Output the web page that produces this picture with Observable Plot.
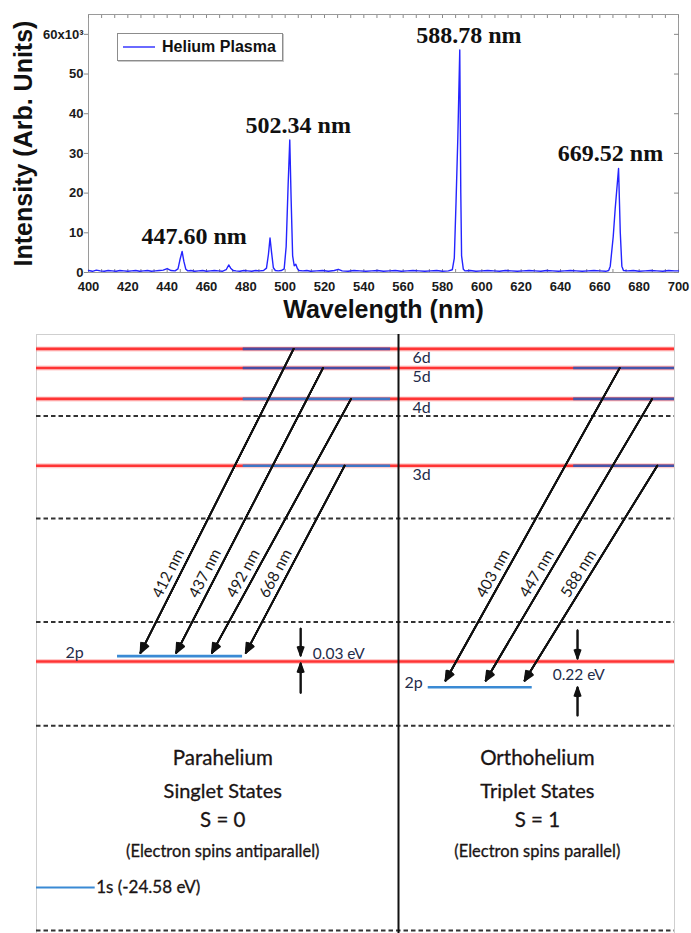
<!DOCTYPE html>
<html>
<head>
<meta charset="utf-8">
<script src="https://cdn.jsdelivr.net/npm/d3@7"></script>
<script src="https://cdn.jsdelivr.net/npm/@observablehq/plot@0.6"></script>
<style>
  html, body { margin: 0; padding: 0; background: #fff; }
  #figure { position: relative; width: 691px; height: 933px; overflow: hidden; }
  #figure svg { display: block; }
  .legend {
    position: absolute; left: 117px; top: 33px; width: 164px; height: 26px;
    border: 1px solid #8c8c8c; box-shadow: 1px 1px 0 #c9c9c9; background: #fff;
    display: flex; align-items: center;
    font: bold 16px "Liberation Sans", Arial, sans-serif; color: #111;
  }
  .legend .swatch { width: 32px; height: 0; border-top: 2px solid #6a6aff; margin: 0 7px 0 5px; }
</style>
</head>
<body>
<div id="figure"></div>
<script>
// ---------- Helium plasma emission spectrum (intensity in units of 10^3) ----------
const spectrumNm = [
  400, 402, 404, 406, 408, 410, 412, 414, 416, 418,
  420, 422, 424, 426, 428, 430, 432, 434, 436, 438,
  440, 442, 444, 445.5, 446.5, 447.6, 448.5, 449.5, 450.5, 452,
  454, 456, 458, 460, 462, 464, 466, 468, 470, 471.3,
  472.3, 473.5, 475, 477, 479, 481, 483, 485, 487, 489,
  490.5, 491.5, 492.3, 493.1, 494, 495, 496.5, 498, 499.5, 500.5,
  501.5, 502.34, 503, 503.8, 504.6, 505.4, 506.2, 507, 509, 511,
  513, 516, 519, 522, 525, 527, 529, 532, 535, 538,
  541, 544, 547, 550, 553, 556, 559, 562, 565, 568,
  571, 574, 577, 580, 583, 585, 586, 586.9, 587.8, 588.78,
  589.3, 589.7, 590.6, 591.5, 594, 597, 600, 603, 606, 609,
  612, 615, 618, 621, 624, 627, 630, 633, 636, 639,
  642, 645, 648, 651, 654, 657, 660, 663, 664.5, 665.3,
  666.8, 667.8, 669.52, 670.4, 671.2, 672, 674, 677, 680, 683,
  686, 689, 692, 695, 698, 700
];
const spectrumIntensity = [
  0.5, 0.3, 0.6, 0.4, 0.3, 0.5, 0.4, 0.3, 0.5, 0.4,
  0.3, 0.4, 0.5, 0.3, 0.4, 0.5, 0.3, 0.4, 0.5, 0.6,
  1.0, 0.5, 0.4, 0.9, 3.2, 5.3, 2.8, 0.8, 0.4, 0.5,
  0.3, 0.4, 0.5, 0.3, 0.4, 0.5, 0.4, 0.3, 0.7, 1.9,
  1.1, 0.5, 0.4, 0.3, 0.5, 0.4, 0.3, 0.5, 0.4, 0.5,
  1.1, 4.6, 8.7, 5.0, 1.2, 0.5, 0.4, 0.5, 0.9, 6.5,
  22, 33.4, 19, 4.2, 1.7, 2.1, 1.0, 0.5, 0.4, 0.5,
  0.3, 0.4, 0.5, 0.3, 0.5, 0.8, 0.4, 0.3, 0.5, 0.4,
  0.3, 0.4, 0.5, 0.3, 0.4, 0.5, 0.3, 0.4, 0.5, 0.4,
  0.3, 0.4, 0.5, 0.3, 0.4, 0.7, 3.6, 18, 34, 56.1,
  20, 4.2, 0.8, 0.4, 0.5, 0.3, 0.4, 0.5, 0.4, 0.3,
  0.5, 0.4, 0.3, 0.4, 0.5, 0.4, 0.3, 0.5, 0.4, 0.3,
  0.4, 0.5, 0.4, 0.3, 0.4, 0.5, 0.4, 0.3, 0.5, 1.6,
  9.0, 16, 26.2, 10, 1.6, 0.5, 0.4, 0.5, 0.3, 0.4,
  0.5, 0.4, 0.3, 0.5, 0.4, 0.4
];

// Labelled emission peaks
const peakNm = [447.60, 502.34, 588.78, 669.52];
const peakIntensity = [5.3, 33.4, 56.1, 26.2];
const peakLabelShiftNm = [6.1, 4.3, 4.6, -4.1];

// Axis ticks
const xTicks = d3.range(400, 701, 20);
const xMinorTicks = d3.range(0, 46).map(i => 400 + i * 20 / 3);
const yTicks = [0, 10, 20, 30, 40, 50, 60];
const xDomain = [400, 700];
const yDomain = [0, 65];

// ---------- Helium energy-level diagram (schematic heights) ----------
const levelNames = ["6d", "5d", "4d", "3d"];
const levelHeight = [97.6, 94.4, 89.25, 78.1];
const dashedHeights = [86.4, 69.3, 52.0, 34.7, 0.5];
const red2pHeight = 45.4;
const singlet2pHeight = 46.3;
const triplet2pHeight = 41.1;
const groundHeight = 7.7;

const singletNm = [412, 437, 492, 668];
const singletFrom = ["6d", "5d", "4d", "3d"];
const tripletNm = [403, 447, 588];
const tripletFrom = ["5d", "4d", "3d"];

const gapEv = [0.03, 0.22];
const groundLabel = "1s (-24.58 eV)";
const panelTitles = [
  ["Parahelium", "Singlet States", "S = 0", "(Electron spins antiparallel)"],
  ["Orthohelium", "Triplet States", "S = 1", "(Electron spins parallel)"]
];

// ---------- diagram layout (x in % of frame width) ----------
const divideX = 56.74;
const singletUpperSpan = [32.4, 55.5];
const tripletUpperSpan = [84.2, 100];
const singlet2pSpan = [12.7, 32.3];
const triplet2pSpan = [61.4, 77.7];
const groundSpan = [0, 9.2];
const singletArrowX = {start: [40.3, 44.9, 49.3, 48.3], end: [16.3, 21.9, 27.5, 32.8]};
const tripletArrowX = {start: [91.4, 96.5, 97.3], end: [64.1, 70.4, 76.5]};
const arrowLabelHeight = 60.1;
const panelCenters = [29.2, 78.5];
const titleHeights = [29.2, 23.7, 18.9, 13.7];
const titleSizes = [20.5, 20, 20.5, 16.5];

const font = '"Liberation Sans", Arial, sans-serif';
const serif = '"Liberation Serif", "Times New Roman", serif';
const sans = 'Lato, "Open Sans", sans-serif';

// ---------- top: spectrum ----------
const spectrum = spectrumNm.map((nm, i) => ({nm, value: spectrumIntensity[i]}));
const peaks = peakNm.map((nm, i) => ({nm, value: peakIntensity[i], shift: peakLabelShiftNm[i]}));

const spectrumPlot = Plot.plot({
  width: 691,
  height: 322,
  marginLeft: 88,
  marginRight: 13,
  marginTop: 14,
  marginBottom: 50,
  style: {fontFamily: font, background: "#fff", overflow: "visible"},
  x: {domain: xDomain},
  y: {domain: yDomain},
  marks: [
    Plot.frame({stroke: "#9a9a9a"}),
    // tick marks: outward on the left, inward on the mirrored sides
    Plot.axisY({ticks: yTicks, tickSize: 4, tickFormat: () => "", stroke: "#8a8a8a", label: null}),
    Plot.axisY({ticks: yTicks, anchor: "right", tickSize: -5, tickFormat: () => "", stroke: "#8a8a8a", label: null}),
    Plot.axisX({ticks: xMinorTicks, anchor: "top", tickSize: -3, tickFormat: () => "", stroke: "#8a8a8a", label: null}),
    Plot.axisX({ticks: xMinorTicks, tickSize: -3, tickFormat: () => "", stroke: "#8a8a8a", label: null}),
    // tick labels
    Plot.axisY({ticks: yTicks, tickSize: 0, tickPadding: 5, fontSize: 13, fontWeight: "bold", fill: "#1a1a1a",
      tickFormat: d => d === 60 ? "60x10³" : String(d), label: null}),
    Plot.axisX({ticks: xTicks, tickSize: 0, tickPadding: 9, fontSize: 13, fontWeight: "bold", fill: "#1a1a1a",
      tickFormat: d => String(d), label: null}),
    // spectrum trace
    Plot.line(spectrum, {x: "nm", y: "value", stroke: "#2424ff", strokeWidth: 1.4, curve: "linear"}),
    // peak labels
    Plot.text(peaks, {x: d => d.nm + d.shift, y: "value", dy: -15, text: d => `${d.nm.toFixed(2)} nm`,
      fontFamily: serif, fontWeight: "bold", fontSize: 24, fill: "#111"}),
    // axis titles
    Plot.text(["Intensity (Arb. Units)"], {x: () => xDomain[0], y: () => (yDomain[0] + yDomain[1]) / 2,
      dx: -65, rotate: -90, fontSize: 25, fontWeight: "bold", fill: "#111"}),
    Plot.text(["Wavelength (nm)"], {x: () => (xDomain[0] + xDomain[1]) / 2, y: () => yDomain[0],
      dy: 37, fontSize: 25, fontWeight: "bold", fill: "#111"})
  ]
});

// ---------- bottom: energy levels ----------
const dW = 691, dH = 611, dML = 36, dMR = 17, dMT = 12, dMB = 0;
const kx = (dW - dML - dMR) / 100;
const ky = (dH - dMT - dMB) / 100;
const heightOf = name => levelHeight[levelNames.indexOf(name)];

const transitions = [
  ...singletNm.map((nm, i) => ({nm, x1: singletArrowX.start[i], y1: heightOf(singletFrom[i]),
    x2: singletArrowX.end[i], y2: singlet2pHeight + 0.55})),
  ...tripletNm.map((nm, i) => ({nm, x1: tripletArrowX.start[i], y1: heightOf(tripletFrom[i]),
    x2: tripletArrowX.end[i], y2: triplet2pHeight + 1.1}))
];
// label anchor: point on each arrow at the label height, nudged to its upper-left side
transitions.forEach(t => {
  const f = (arrowLabelHeight - t.y2) / (t.y1 - t.y2);
  t.lx = t.x2 + f * (t.x1 - t.x2) - 1.9;
  t.ly = arrowLabelHeight;
  t.angle = Math.atan2(-(t.y1 - t.y2) * ky, (t.x1 - t.x2) * kx) * 180 / Math.PI;
});

const upperSinglet = levelNames.map((name, i) => ({name, y: levelHeight[i]}));
const upperTriplet = upperSinglet.filter(d => tripletFrom.includes(d.name));

const gapArrows = [
  {x: 41.4, y1: 50.9, y2: singlet2pHeight + 0.1},
  {x: 41.4, y1: 40.2, y2: red2pHeight - 0.3},
  {x: 84.8, y1: 50.6, y2: red2pHeight + 0.5},
  {x: 84.8, y1: 36.4, y2: triplet2pHeight}
];
const gapLabels = [
  {x: 43.3, y: 46.7, text: `${gapEv[0].toFixed(2)} eV`},
  {x: 80.9, y: 43.1, text: `${gapEv[1].toFixed(2)} eV`}
];
const titles = panelTitles.flatMap((lines, p) =>
  lines.map((text, j) => ({text, x: panelCenters[p], y: titleHeights[j], size: titleSizes[j]})));

const red = "#ff3434";
const purpleBlue = "#474ca3";
const midBlue = "#3d76c6";
const deepBlue = "#4455aa";
const lightBlue = "#3a8ad4";
const navy = "#1f2c4a";
const singletTint = {"6d": purpleBlue, "5d": purpleBlue, "4d": midBlue, "3d": midBlue};

// filled-looking arrowheads: a fan of heads at several opening angles
const headFan = (data, opts, angles) =>
  angles.map(a => Plot.arrow(data, {...opts, headAngle: a}));

const diagramPlot = Plot.plot({
  width: dW,
  height: dH,
  marginLeft: dML,
  marginRight: dMR,
  marginTop: dMT,
  marginBottom: dMB,
  style: {fontFamily: sans, background: "#fff", overflow: "visible"},
  x: {domain: [0, 100], axis: null},
  y: {domain: [0, 100], axis: null},
  marks: [
    // panel border
    Plot.ruleX([0, 100], {y1: 0, y2: 100, stroke: "#cfcfcf", strokeWidth: 1}),
    Plot.ruleY([100], {x1: 0, x2: 100, stroke: "#cfcfcf", strokeWidth: 1}),
    // red levels with soft edge
    Plot.ruleY([...levelHeight, red2pHeight], {x1: 0, x2: 100, stroke: "#ff8c8c", strokeWidth: 5, strokeOpacity: 0.45}),
    Plot.ruleY([...levelHeight, red2pHeight], {x1: 0, x2: 100, stroke: red, strokeWidth: 2.6}),
    // blue sub-levels
    Plot.ruleY(upperSinglet, {y: "y", x1: singletUpperSpan[0], x2: singletUpperSpan[1],
      stroke: d => singletTint[d.name], strokeWidth: 2.6}),
    Plot.ruleY(upperTriplet, {y: "y", x1: tripletUpperSpan[0], x2: tripletUpperSpan[1], stroke: deepBlue, strokeWidth: 2.6}),
    Plot.ruleY([singlet2pHeight], {x1: singlet2pSpan[0], x2: singlet2pSpan[1], stroke: lightBlue, strokeWidth: 2.6}),
    Plot.ruleY([triplet2pHeight], {x1: triplet2pSpan[0], x2: triplet2pSpan[1], stroke: lightBlue, strokeWidth: 2.6}),
    Plot.ruleY([groundHeight], {x1: groundSpan[0], x2: groundSpan[1], stroke: lightBlue, strokeWidth: 2}),
    // dashed guide lines
    Plot.ruleY(dashedHeights, {x1: 0, x2: 100, stroke: "#333", strokeWidth: 2, strokeDasharray: "4.5,3"}),
    // singlet / triplet divider
    Plot.ruleX([divideX], {y1: 0, y2: 100, stroke: "#111", strokeWidth: 2}),
    // transitions
    ...headFan(transitions, {x1: "x1", y1: "y1", x2: "x2", y2: "y2", stroke: "#111", strokeWidth: 1.7,
      headLength: 9}, [8, 18, 28, 38, 48]),
    Plot.text(transitions, {x: "lx", y: "ly", rotate: "angle", text: d => `${d.nm} nm`, fontSize: 15.5,
      fill: "#1a1a1a"}),
    // 2p splitting markers
    ...headFan(gapArrows, {x1: "x", y1: "y1", x2: "x", y2: "y2", stroke: "#111", strokeWidth: 1.7,
      headLength: 8}, [10, 25, 40]),
    Plot.text(gapLabels, {x: "x", y: "y", text: "text", textAnchor: "start", fontSize: 15.5, fill: navy}),
    // level labels
    Plot.text(upperSinglet, {x: divideX + 2.2, y: "y", dy: 9, text: "name", textAnchor: "start", fontSize: 16, fill: navy}),
    Plot.text(["2p"], {x: 5.96, y: singlet2pHeight, dy: -3, text: d => d, fontSize: 16, fill: navy}),
    Plot.text(["2p"], {x: 59.1, y: triplet2pHeight, dy: -4, text: d => d, fontSize: 16, fill: navy}),
    // panel captions
    Plot.text(titles, {x: "x", y: "y", text: "text", fontSize: d => d.size, fill: "#1a1414",
      stroke: "#1a1414", strokeWidth: 0.3}),
    Plot.text([groundLabel], {x: groundSpan[1], y: groundHeight, dx: 1, text: d => d, textAnchor: "start",
      fontSize: 17, fill: "#1a1414", stroke: "#1a1414", strokeWidth: 0.3})
  ]
});

const fig = document.getElementById("figure");
fig.append(spectrumPlot, diagramPlot);

const legend = document.createElement("div");
legend.className = "legend";
legend.innerHTML = '<span class="swatch"></span><span>Helium Plasma</span>';
fig.append(legend);
</script>
</body>
</html>
